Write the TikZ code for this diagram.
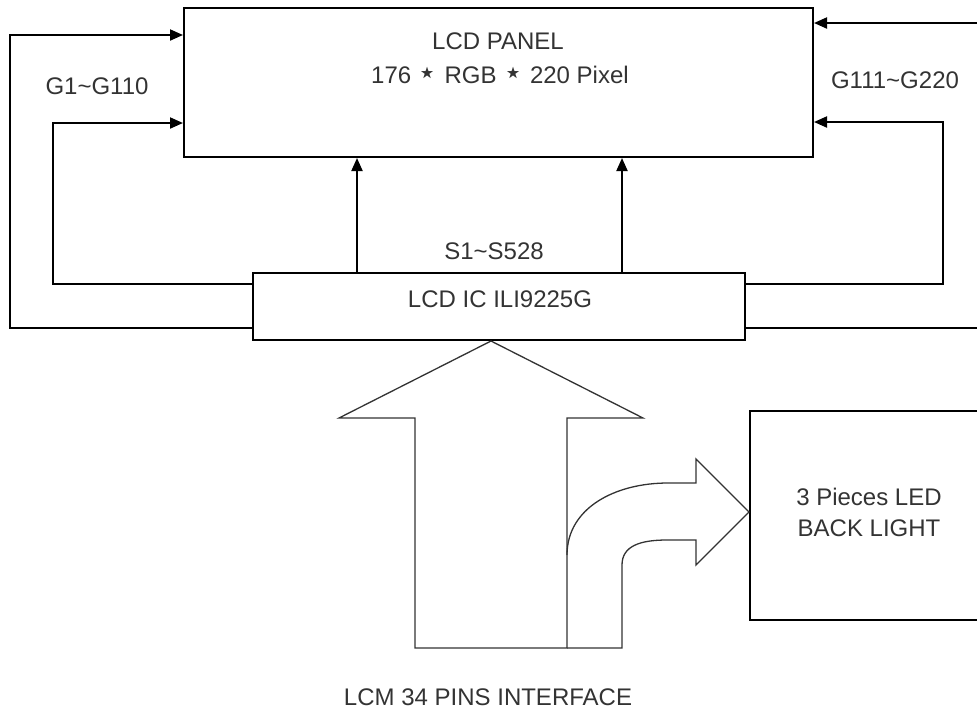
\documentclass[tikz,border=0pt]{standalone}
\usepackage{fontspec}
\setmainfont{Liberation Sans}
\newfontfamily\symfont{DejaVu Sans}
\usetikzlibrary{arrows.meta,calc}
\definecolor{txt}{HTML}{333333}
\begin{document}
\begin{tikzpicture}[x=1pt,y=-1pt,
  box/.style={draw=black,line width=2pt,inner sep=0pt,fill=none},
  conn/.style={draw=black,line width=2pt},
  arr/.style={conn,-{Triangle[length=13pt,width=11pt]}},
  lbl/.style={text=txt,font=\fontsize{24}{28}\selectfont,inner sep=0pt,align=center},
  bigarrow/.style={draw=txt,line width=1.3pt,line join=miter}]
\useasboundingbox (0,0) rectangle (977,713);
% boxes
\node[box,minimum width=629pt,minimum height=149pt] (panel) at (498.5,82.5) {};
\node[box,minimum width=492pt,minimum height=67pt] (ic) at (499,306.5) {};
\node[box,minimum width=262pt,minimum height=209pt] (led) at (881,515.5) {};
% labels
\node[lbl] (panelt1) at (498,41) {LCD PANEL};
\node[lbl] (panelt2) at (500,75) {176 {\symfont\fontsize{32}{32}\selectfont ⋆} RGB {\symfont\fontsize{32}{32}\selectfont ⋆} 220 Pixel};
\node[lbl] (ict) at (500,299) {LCD IC ILI9225G};
\node[lbl] (st) at (494,251) {S1\textasciitilde S528};
\node[lbl] (gl) at (97,86) {G1\textasciitilde G110};
\node[lbl] (gr) at (895,80) {G111\textasciitilde G220};
\node[lbl] (ledt1) at (869,497) {3 Pieces LED};
\node[lbl] (ledt2) at (869,528) {BACK LIGHT};
\node[lbl] (lcm) at (488,697) {LCM 34 PINS INTERFACE};
% helper coordinates
\coordinate (lo) at (10,328);
\coordinate (lotop) at (10,35);
\coordinate (li) at (53,284);
\coordinate (litop) at (53,123);
\coordinate (rtop) at (977,23);
\coordinate (ri) at (943,284);
\coordinate (ritop) at (943,122);
\coordinate (ro) at (977,328);
\coordinate (sA) at (357,0);
\coordinate (sB) at (622,0);
% left gate lines
\draw[arr] (ic.west |- lo) -- (lo) -- (lotop) -- (panel.west |- lotop);
\draw[arr] (ic.west |- li) -- (li) -- (litop) -- (panel.west |- litop);
% right gate lines
\draw[arr] (rtop) -- (panel.east |- rtop);
\draw[arr] (ic.east |- ri) -- (ri) -- (ritop) -- (panel.east |- ritop);
\draw[conn] (ic.east |- ro) -- (ro);
% source lines
\draw[arr] (ic.north -| sA) -- (panel.south -| sA);
\draw[arr] (ic.north -| sB) -- (panel.south -| sB);
% big interface arrow
\draw[bigarrow] (ic.south -| 491,0) -- (643,418) -- (567,418) -- (567,648) -- (415,648) -- (415,418) -- (339,418) -- cycle;
% curved arrow to backlight
\draw[bigarrow] (567,555) .. controls (567,508) and (615,483) .. (668,483) -- (696,483) -- (696,459)
  -- (led.west |- 0,512) -- (696,565) -- (696,540) -- (667,540)
  .. controls (640,540) and (622,546) .. (622,565) -- (622,648) -- (567,648);
\end{tikzpicture}
\end{document}
